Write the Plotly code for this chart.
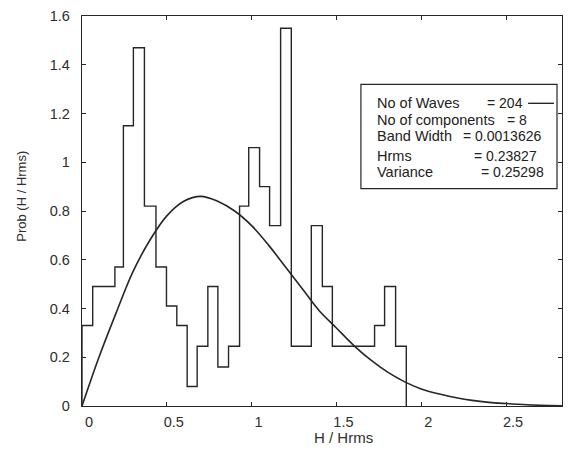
import plotly.graph_objects as go

# Histogram (step)
bin_edges = [0, 0.063, 0.194, 0.244, 0.303, 0.368, 0.436, 0.498, 0.559, 0.620,
             0.679, 0.742, 0.801, 0.864, 0.929, 0.983, 1.047, 1.106, 1.171, 1.234,
             1.352, 1.417, 1.476, 1.725, 1.784, 1.849, 1.912]
bin_heights = [0.33, 0.49, 0.57, 1.15, 1.47, 0.82, 0.57, 0.41, 0.33, 0.08,
               0.245, 0.49, 0.16, 0.245, 0.82, 1.06, 0.90, 0.74, 1.55, 0.245,
               0.74, 0.49, 0.245, 0.33, 0.49, 0.245]

# Theoretical curve
curve_x = [0, 0.1, 0.2, 0.3, 0.4, 0.5, 0.6, 0.7, 0.8, 0.9, 1.0, 1.1, 1.2, 1.3, 1.4,
           1.5, 1.6, 1.7, 1.8, 1.9, 2.0, 2.1, 2.2, 2.3, 2.4, 2.5, 2.6, 2.7, 2.83]
curve_y = [0, 0.20, 0.38, 0.55, 0.68, 0.78, 0.84, 0.86, 0.84, 0.80, 0.74, 0.66, 0.57,
           0.48, 0.39, 0.32, 0.25, 0.19, 0.14, 0.10, 0.07, 0.05, 0.035, 0.023, 0.015,
           0.01, 0.006, 0.003, 0.001]

x_ticks = [0, 0.5, 1, 1.5, 2, 2.5]
y_ticks = [0, 0.2, 0.4, 0.6, 0.8, 1, 1.2, 1.4, 1.6]

legend_labels = ["No of Waves", "No of components", "Band Width", "Hrms", "Variance"]
legend_values = ["= 204", "= 8", "= 0.0013626", "= 0.23827", "= 0.25298"]

INK = "#262626"
TXT = "#2e2e2e"
FONT = "Liberation Sans, Arial, sans-serif"

W, H = 571, 453
L, R, T, B = 82, 563, 13, 406


def px(xp):
    return (xp - L) / (R - L)


def py(yp):
    return (B - yp) / (B - T)


step_x = [0] + bin_edges
step_y = [0] + bin_heights + [0]

fig = go.Figure()
fig.add_trace(go.Scatter(x=step_x, y=step_y, mode="lines", line_shape="hv",
                         line=dict(color=INK, width=1.4), showlegend=False))
fig.add_trace(go.Scatter(x=curve_x, y=curve_y, mode="lines", line_shape="spline",
                         line=dict(color=INK, width=1.6), showlegend=False))

axis_common = dict(showgrid=False, zeroline=False, showline=True, linecolor=INK,
                   linewidth=1.3, mirror="ticks", ticks="inside", ticklen=4,
                   tickcolor=INK, tickwidth=1,
                   tickfont=dict(family=FONT, size=14.5, color=TXT))

fig.update_xaxes(range=[0, 2.83], tickvals=x_ticks, ticktext=[str(v) for v in x_ticks],
                 ticklabelshift=7, ticklabelstandoff=2, **axis_common)
fig.update_yaxes(range=[0, 1.6], tickvals=y_ticks, ticktext=[f"{v:g}" for v in y_ticks],
                 ticklabelstandoff=8, **axis_common)

annotations = []
# axis titles
annotations.append(dict(text="H / Hrms", xref="paper", yref="paper", x=px(344), y=py(438),
                        showarrow=False, font=dict(family=FONT, size=15, color=TXT),
                        xanchor="center", yanchor="middle"))
annotations.append(dict(text="Prob (H / Hrms)", xref="paper", yref="paper", x=px(21), y=py(195),
                        showarrow=False, textangle=-90,
                        font=dict(family=FONT, size=13, color=TXT),
                        xanchor="center", yanchor="middle"))

# legend text
line_y = [100.7, 117.3, 134.3, 154, 170.7]
val_x = [526, 506, 462, 473, 480]
val_anchor = ["right", "left", "left", "left", "left"]
for lab, val, yy, vx, va in zip(legend_labels, legend_values, line_y, val_x, val_anchor):
    annotations.append(dict(text=lab, xref="paper", yref="paper", x=px(376), y=py(yy),
                            showarrow=False, xanchor="left", yanchor="middle",
                            font=dict(family=FONT, size=14.5, color="#222")))
    annotations.append(dict(text=val, xref="paper", yref="paper", x=px(vx), y=py(yy),
                            showarrow=False, xanchor=va, yanchor="middle",
                            font=dict(family=FONT, size=14, color="#222")))

shapes = [
    dict(type="rect", xref="paper", yref="paper", x0=px(361.5), x1=px(558), y0=py(187), y1=py(82),
         line=dict(color=INK, width=1.2), fillcolor="white", layer="above"),
    dict(type="line", xref="paper", yref="paper", x0=px(529), x1=px(555), y0=py(101), y1=py(101),
         line=dict(color=INK, width=1.4)),
]

fig.update_layout(width=W, height=H, margin=dict(l=L, r=W - R, t=T, b=H - B),
                  paper_bgcolor="white", plot_bgcolor="white",
                  annotations=annotations, shapes=shapes, showlegend=False)

fig.write_html("out.html")
